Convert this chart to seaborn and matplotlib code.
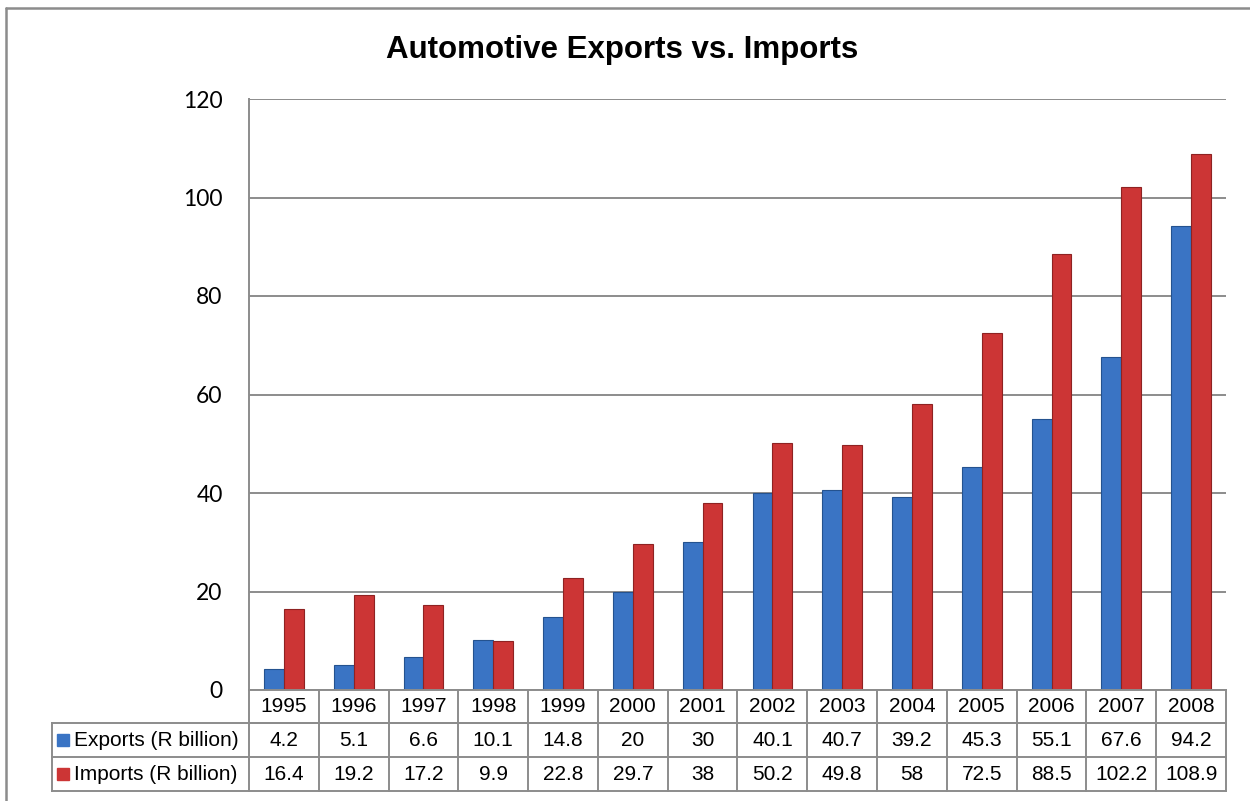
import matplotlib
matplotlib.use("Agg")
import matplotlib.pyplot as plt
import matplotlib.transforms as mtransforms
import seaborn as sns
import pandas as pd

years = ["1995", "1996", "1997", "1998", "1999", "2000", "2001",
         "2002", "2003", "2004", "2005", "2006", "2007", "2008"]
exports = [4.2, 5.1, 6.6, 10.1, 14.8, 20, 30, 40.1, 40.7, 39.2, 45.3, 55.1, 67.6, 94.2]
imports = [16.4, 19.2, 17.2, 9.9, 22.8, 29.7, 38, 50.2, 49.8, 58, 72.5, 88.5, 102.2, 108.9]
series_names = ["Exports (R billion)", "Imports (R billion)"]
title = "Automotive Exports vs. Imports"
yticks = [0, 20, 40, 60, 80, 100, 120]

blue = "#3a74c4"
red = "#cc3535"
edge_blue = "#24528f"
edge_red = "#8e2222"
grid_c = "#8c8c8c"

df = pd.DataFrame({
    "Year": years * 2,
    "Value": exports + imports,
    "Series": [series_names[0]] * len(years) + [series_names[1]] * len(years),
})

sns.set_style("white")
plt.rcParams["font.family"] = ["Liberation Sans", "DejaVu Sans"]
plt.rcParams["text.color"] = "black"
plt.rcParams["ytick.color"] = "black"
plt.rcParams["xtick.color"] = "black"

W, H = 1250, 801
fig = plt.figure(figsize=(W / 100, H / 100), dpi=100)
L, R, T, B = 249, 1226, 99, 690
ax = fig.add_axes([L / W, 1 - B / H, (R - L) / W, (B - T) / H])

sns.barplot(data=df, x="Year", y="Value", hue="Series", order=years,
            hue_order=series_names, palette=[blue, red], width=0.57,
            saturation=1, ax=ax, legend=False)
for patch in ax.patches:
    fc = patch.get_facecolor()
    patch.set_edgecolor(edge_blue if fc[2] > fc[0] else edge_red)
    patch.set_linewidth(0.8)

ax.set_xlim(-0.5, len(years) - 0.5)
ax.set_ylim(0, 120)
ax.set_yticks(yticks)
ax.set_yticklabels([str(t) for t in yticks], family=["Lato", "DejaVu Sans"],
                   fontsize=16.5, color="black")
ax.tick_params(axis="y", length=0, pad=19)
ax.set_xticks([])
ax.set_xlabel("")
ax.set_ylabel("")
ax.yaxis.grid(True, color=grid_c, linewidth=1.4)
ax.set_axisbelow(True)
for s in ["top", "right"]:
    ax.spines[s].set_visible(False)
for s in ["left", "bottom"]:
    ax.spines[s].set_color(grid_c)
    ax.spines[s].set_linewidth(1.4)

# data table below the axis
hpx = B - T
wpx = R - L
row_edges = [0, -33 / hpx, -67 / hpx, -101 / hpx]
label_left = (52 - L) / wpx
blend = mtransforms.blended_transform_factory(ax.transData, ax.transAxes)
lkw = dict(color=grid_c, linewidth=1.4, clip_on=False, solid_capstyle="projecting")
for i in range(len(years) + 1):
    ax.plot([i - 0.5, i - 0.5], [0, row_edges[-1]], transform=blend, **lkw)
ax.plot([0, 1], [row_edges[1]] * 2, transform=ax.transAxes, **lkw)
for y in row_edges[1:]:
    ax.plot([label_left, 1], [y, y], transform=ax.transAxes, **lkw)
ax.plot([label_left, label_left], [row_edges[1], row_edges[-1]], transform=ax.transAxes, **lkw)

tfs = 15
for i, yr in enumerate(years):
    ax.text(i, (row_edges[0] + row_edges[1]) / 2, yr, transform=blend,
            ha="center", va="center", fontsize=tfs, color="black")
    ax.text(i, (row_edges[1] + row_edges[2]) / 2, f"{exports[i]:g}", transform=blend,
            ha="center", va="center", fontsize=tfs, color="black")
    ax.text(i, (row_edges[2] + row_edges[3]) / 2, f"{imports[i]:g}", transform=blend,
            ha="center", va="center", fontsize=tfs, color="black")

key_x = (63 - L) / wpx
text_x = (74 - L) / wpx
for k, (name, col) in enumerate(zip(series_names, [blue, red])):
    ym = (row_edges[k + 1] + row_edges[k + 2]) / 2
    ax.plot([key_x], [ym], marker="s", markersize=8, color=col,
            markeredgecolor=col, transform=ax.transAxes, clip_on=False)
    ax.text(text_x, ym, name, transform=ax.transAxes, ha="left", va="center",
            fontsize=tfs, color="black")

fig.text(622 / W, 1 - 50 / H, title, ha="center", va="center",
         fontsize=22.5, fontweight="bold", color="black")

# outer chart frame (top and left visible)
fig.add_artist(plt.Line2D([6 / W, 1.0], [1 - 8 / H] * 2, color=grid_c, linewidth=1.8,
                          transform=fig.transFigure))
fig.add_artist(plt.Line2D([6 / W] * 2, [0.0, 1 - 8 / H], color=grid_c, linewidth=1.8,
                          transform=fig.transFigure))

fig.savefig("out.png", dpi=100)
